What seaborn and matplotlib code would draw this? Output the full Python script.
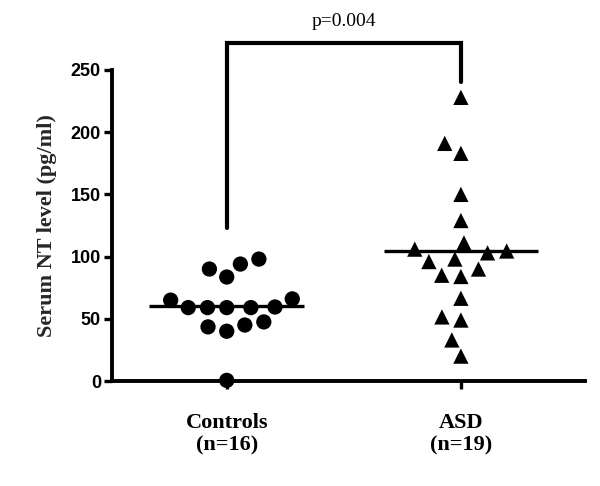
import numpy as np
import pandas as pd
import matplotlib
matplotlib.use("Agg")
import matplotlib.pyplot as plt
import seaborn as sns

# ---- data ----
groups = ["Controls\n(n=16)", "ASD\n(n=19)"]
controls = [98, 90, 83.6, 94, 66, 65, 59, 59, 59.5, 59, 59, 47.5, 43.5, 40, 45, 0.5]
asd = [228, 191, 183, 150, 129, 106, 111, 104.5, 103, 96, 98, 90, 85, 84,
       66.5, 51.5, 49, 33, 20]
yticks = [0, 50, 100, 150, 200, 250]
p_text = "p=0.004"
ylabel = "Serum NT level (pg/ml)"

df = pd.DataFrame({
    "group": [groups[0]] * len(controls) + [groups[1]] * len(asd),
    "value": controls + asd,
})

sns.set_theme(style="white")
plt.rcParams["font.family"] = ["Liberation Sans", "DejaVu Sans"]

fig = plt.figure(figsize=(6.0, 4.86), dpi=100)
ax = fig.add_axes([112 / 600, 1 - 381 / 486, (585 - 112) / 600, (381 - 70) / 486])

sns.swarmplot(data=df[df.group == groups[0]], x="group", y="value", order=groups,
              color="black", marker="o", size=11, linewidth=2.2, edgecolor="none",
              ax=ax, zorder=3)
sns.swarmplot(data=df[df.group == groups[1]], x="group", y="value", order=groups,
              color="black", marker="^", size=11, linewidth=2.2, edgecolor="none",
              ax=ax, zorder=3)
for c in ax.collections:
    offs = c.get_offsets()
    if len(offs) > 0:
        c.set_clip_on(False)

# mean lines
for i, vals in enumerate([controls, asd]):
    ax.hlines(np.mean(vals), i - 0.33, i + 0.33, color="black", lw=2.4, zorder=2)

ax.set_xlim(-0.49, 1.53)
ax.set_ylim(0, 250)
ax.set_yticks(yticks)
ax.set_yticklabels([str(t) for t in yticks], fontfamily=["Liberation Sans Narrow", "Liberation Sans", "DejaVu Sans"],
                   fontweight="bold", fontsize=13)
ax.set_xticks([0, 1])
ax.set_xticklabels(groups, fontfamily=["Liberation Serif", "DejaVu Serif"], fontweight="bold",
                   fontsize=16, linespacing=1.2)
ax.set_xlabel("")
ax.set_ylabel(ylabel, fontfamily=["Liberation Serif", "DejaVu Serif"], fontweight="bold",
              fontsize=16, labelpad=10)

for s in ["top", "right"]:
    ax.spines[s].set_visible(False)
for s in ["left", "bottom"]:
    ax.spines[s].set_linewidth(2.8)
    ax.spines[s].set_color("black")
ax.tick_params(axis="y", direction="out", length=6, width=2.4, pad=2, left=True, colors="black")
ax.tick_params(axis="x", direction="out", length=6, width=2.4, pad=17, bottom=True, colors="black")

# significance bracket
bx = [0, 0, 1, 1]
by = [123, 272, 272, 240]
ax.plot(bx, by, color="black", lw=3, clip_on=False, solid_capstyle="round",
        solid_joinstyle="miter")
ax.text(0.5, 282, p_text, ha="center", va="bottom", fontsize=14,
        fontfamily=["Liberation Serif", "DejaVu Serif"], color="black")

fig.savefig("out.png", dpi=100)
